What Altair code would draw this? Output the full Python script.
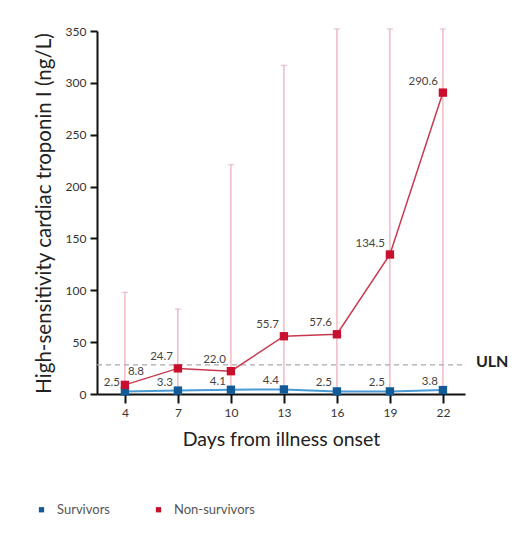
import altair as alt
import pandas as pd

days = [4, 7, 10, 13, 16, 19, 22]
survivors = [2.5, 3.3, 4.1, 4.4, 2.5, 2.5, 3.8]
non_survivors = [8.8, 24.7, 22.0, 55.7, 57.6, 134.5, 290.6]
non_surv_low = [1.0, 1.5, 1.5, 2.0, 2.0, 2.0, 2.0]
non_surv_high = [98.0, 82.0, 221.0, 317.0, 352.0, 352.0, 352.0]
uln = 28.0

rows = []
for i, d in enumerate(days):
    rows.append(dict(day=d, value=survivors[i], group="Survivors", label=f"{survivors[i]:.1f}",
                     low=None, high=None))
    rows.append(dict(day=d, value=non_survivors[i], group="Non-survivors", label=f"{non_survivors[i]:.1f}",
                     low=non_surv_low[i], high=non_surv_high[i]))
df = pd.DataFrame(rows)
nd = df[df.group == "Non-survivors"]
sd = df[df.group == "Survivors"]

xs = alt.Scale(domain=[2.42, 23.25], nice=False, zero=False)
ys = alt.Scale(domain=[0, 350], nice=False, clamp=False)

xaxis = alt.Axis(values=days, title="Days from illness onset", grid=False,
                 domainColor="#111", domainWidth=2, tickColor="#111", tickWidth=2, tickSize=9,
                 labelFontSize=12, labelColor="#333", labelPadding=4,
                 titleFontSize=19.5, titleFontWeight="normal", titleColor="#222", titlePadding=12,
                 labelFont="Lato", titleFont="Lato")
yaxis = alt.Axis(values=[0, 50, 100, 150, 200, 250, 300, 350],
                 title="High-sensitivity cardiac troponin I (ng/L)", grid=False,
                 domainColor="#111", domainWidth=2, tickColor="#111", tickWidth=2, tickSize=7,
                 labelFontSize=12, labelColor="#333", labelPadding=4,
                 titleFontSize=20.5, titleFontWeight="normal", titleColor="#222",
                 titleX=-53, titleY=182, titleAlign="center", titleBaseline="middle", titleAngle=270,
                 labelFont="Lato", titleFont="Lato")

color_scale = alt.Scale(domain=["Survivors", "Non-survivors"], range=["#135b96", "#c8102e"])

base = alt.Chart(df)

whisk = alt.Chart(nd).mark_rule(color="#eeaab4", strokeWidth=1.2).encode(
    x=alt.X("day:Q", scale=xs, axis=xaxis), y=alt.Y("low:Q", scale=ys, axis=yaxis), y2="high:Q")
caps = alt.Chart(nd).mark_tick(color="#d99aa4", size=6, thickness=1, orient="horizontal").encode(
    x=alt.X("day:Q", scale=xs), y=alt.Y("high:Q", scale=ys))

uln_df = pd.DataFrame({"x": [2.42], "x2": [23.25], "y": [uln]})
uln_rule = alt.Chart(uln_df).mark_rule(color="#aaa", strokeDash=[5, 4], strokeWidth=1.2).encode(
    x=alt.X("x:Q", scale=xs), x2="x2:Q", y=alt.Y("y:Q", scale=ys))
uln_text = alt.Chart(pd.DataFrame({"x": [23.3], "y": [uln], "t": ["ULN"]})).mark_text(
    align="left", dx=10, dy=-3, fontSize=16, font="Lato", fontWeight="bold", color="#222").encode(
    x=alt.X("x:Q", scale=xs), y=alt.Y("y:Q", scale=ys), text="t:N")

line_s = alt.Chart(sd).mark_line(color="#4a9ad6", strokeWidth=2).encode(
    x=alt.X("day:Q", scale=xs), y=alt.Y("value:Q", scale=ys))
line_n = alt.Chart(nd).mark_line(color="#c8394f", strokeWidth=1.5).encode(
    x=alt.X("day:Q", scale=xs), y=alt.Y("value:Q", scale=ys))

pts = base.mark_point(shape="square", filled=True, size=70, opacity=1).encode(
    x=alt.X("day:Q", scale=xs), y=alt.Y("value:Q", scale=ys),
    color=alt.Color("group:N", scale=color_scale, title=None,
                    legend=alt.Legend(orient="none", legendX=-62, legendY=472, direction="horizontal",
                                      symbolType="square", symbolSize=28, labelFontSize=13,
                                      labelFont="Lato", labelColor="#555", columnPadding=42,
                                      labelOffset=9)))

lab_s = alt.Chart(sd).mark_text(align="right", dx=-5, dy=-8, fontSize=11.5, font="Lato", color="#444").encode(
    x=alt.X("day:Q", scale=xs), y=alt.Y("value:Q", scale=ys), text="label:N")
nd_first = nd[nd.day == 4]
nd_rest = nd[nd.day != 4]
lab_n1 = alt.Chart(nd_first).mark_text(align="left", dx=3, dy=-13, fontSize=11.5, font="Lato", color="#444").encode(
    x=alt.X("day:Q", scale=xs), y=alt.Y("value:Q", scale=ys), text="label:N")
lab_n = alt.Chart(nd_rest).mark_text(align="right", dx=-5, dy=-11, fontSize=11.5, font="Lato", color="#444").encode(
    x=alt.X("day:Q", scale=xs), y=alt.Y("value:Q", scale=ys), text="label:N")

chart = alt.layer(whisk, caps, uln_rule, uln_text, line_s, line_n, pts, lab_s, lab_n1, lab_n).properties(
    width=368, height=363,
    autosize=alt.AutoSizeParams(type="none"),
    padding={"left": 89, "top": 23, "right": 50, "bottom": 130},
).configure_view(stroke=None)

chart.save("out.html", embed_options={"renderer": "svg", "actions": False})
